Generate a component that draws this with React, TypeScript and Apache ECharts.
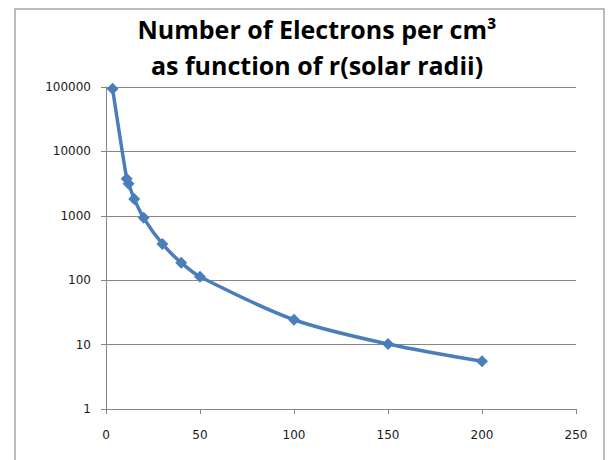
import React, { useEffect, useRef } from "react";
import * as echarts from "echarts";

const radii = [3.5, 11, 12, 15, 20, 30, 40, 50, 100, 150, 200];
const electrons = [94000, 3750, 3150, 1830, 930, 365, 187, 113, 24.3, 10.2, 5.5];
const titleLines = ["Number of Electrons per cm³", "as function of r(solar radii)"];

export default function App() {
  const ref = useRef<HTMLDivElement>(null);
  useEffect(() => {
    const chart = echarts.init(ref.current!, undefined, { renderer: "svg" });
    const data = radii.map((r, i) => [r, electrons[i]]);
    chart.setOption({
      animation: false,
      backgroundColor: "#ffffff",
      graphic: [
        {
          type: "rect",
          shape: { x: 15, y: 9, width: 589, height: 470 },
          style: { fill: "none", stroke: "#a6a6a6", lineWidth: 1.5 },
          silent: true,
        },
      ],
      title: {
        text: titleLines.join("\n"),
        left: 317,
        textAlign: "center",
        top: 11,
        padding: 0,
        textStyle: {
          fontFamily: "Open Sans",
          fontWeight: "bold",
          fontSize: 25,
          lineHeight: 36,
          color: "#000000",
        },
      },
      grid: { left: 106, right: 34, top: 87, bottom: 51 },
      xAxis: {
        type: "value",
        min: 0,
        max: 250,
        interval: 50,
        axisLine: { show: true, lineStyle: { color: "#868686", width: 1 } },
        axisTick: { show: true, length: 5, lineStyle: { color: "#868686" } },
        splitLine: { show: false },
        axisLabel: {
          margin: 20,
          fontFamily: "DejaVu Sans",
          fontSize: 12,
          color: "#1a1a1a",
        },
      },
      yAxis: {
        type: "log",
        logBase: 10,
        min: 1,
        max: 100000,
        axisLine: { show: true, lineStyle: { color: "#868686", width: 1 } },
        axisTick: { show: true, length: 5, inside: false, lineStyle: { color: "#868686" } },
        splitLine: { show: true, lineStyle: { color: "#868686", width: 1 } },
        minorTick: { show: false },
        axisLabel: {
          margin: 15,
          fontFamily: "DejaVu Sans",
          fontSize: 12,
          color: "#1a1a1a",
          formatter: (v: number) => String(Math.round(v)),
        },
      },
      series: [
        {
          type: "line",
          data,
          smooth: 0.3,
          symbol: "diamond",
          symbolSize: 12,
          lineStyle: { color: "#4a7ebb", width: 3.5 },
          itemStyle: { color: "#4a7ebb" },
        },
      ],
    });
    return () => chart.dispose();
  }, []);
  return (
    <div
      ref={ref}
      style={{ position: "fixed", left: 0, top: 0, width: 610, height: 460 }}
    />
  );
}
